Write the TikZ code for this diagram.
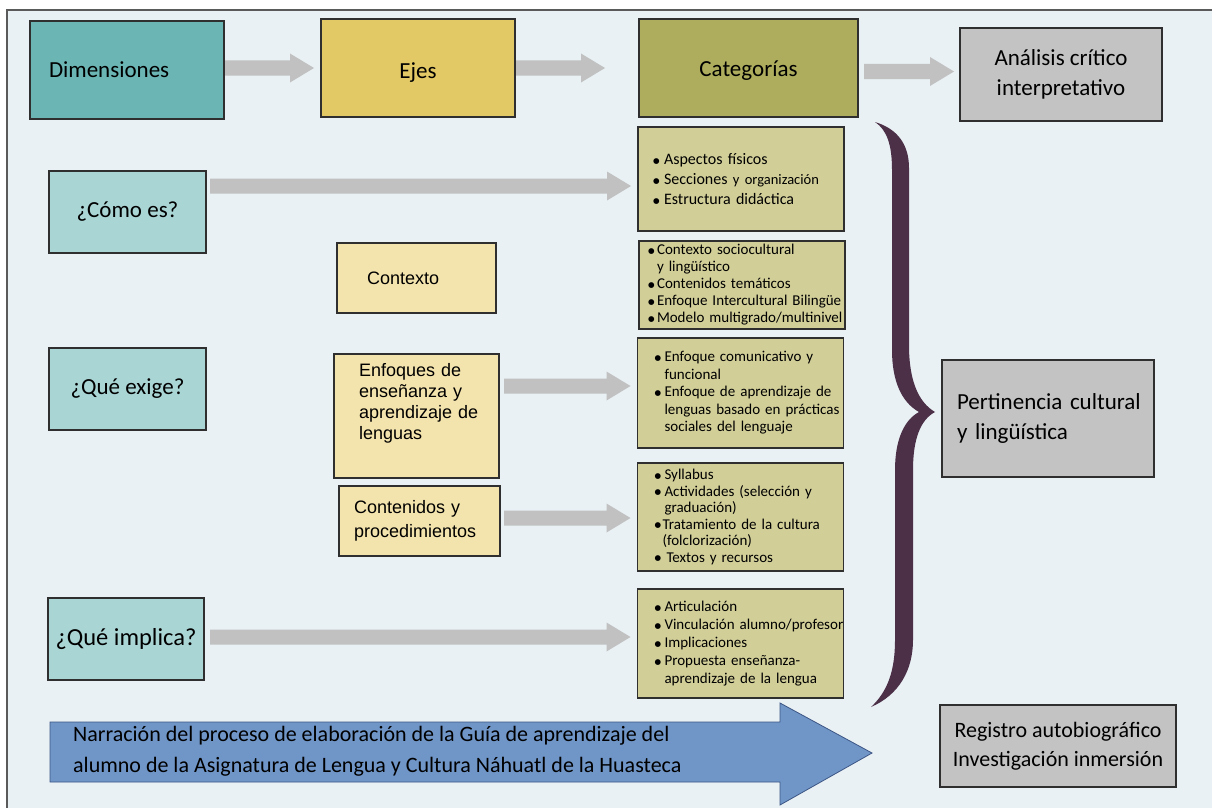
\documentclass[tikz,border=0pt]{standalone}
\usepackage{fontspec}
\setmainfont{Carlito}
\newfontfamily\arialf{Liberation Sans}
\newfontfamily\dejavu{DejaVu Sans}
\usetikzlibrary{calc}
\definecolor{bgc}{HTML}{E9F1F4}
\definecolor{framec}{HTML}{5A5A5A}
\definecolor{boxline}{HTML}{2F2F2F}
\definecolor{tealc}{HTML}{6BB5B5}
\definecolor{ejesc}{HTML}{E2C965}
\definecolor{catc}{HTML}{ADAD5D}
\definecolor{grayc}{HTML}{C3C3C3}
\definecolor{lteal}{HTML}{AAD5D5}
\definecolor{lyell}{HTML}{F3E3AC}
\definecolor{lcat}{HTML}{D1CE98}
\definecolor{arrowgray}{HTML}{C1C1C1}
\definecolor{bracec}{HTML}{4C3048}
\definecolor{bluec}{HTML}{7096C8}
\definecolor{blueedge}{HTML}{3C5584}
\newcommand\garrow[2]{\fill[arrowgray] let \p1=#1, \p2=#2 in (\x1,\y1+7.5pt) -- (\x2-24pt,\y1+7.5pt) -- (\x2-24pt,\y1+14.5pt) -- (\x2,\y1) -- (\x2-24pt,\y1-14.5pt) -- (\x2-24pt,\y1-7.5pt) -- (\x1,\y1-7.5pt) -- cycle;}
\newcommand\bdot{\raisebox{1.3pt}{\dejavu\fontsize{7.5}{7.5}\selectfont ●}}
\newcommand\bitem[2][11pt]{\mbox{\makebox[#1][l]{\bdot}#2}}
\newcommand\citem[2][11pt]{\mbox{\hspace*{#1}#2}}
\newcommand\lowtext[2]{\raisebox{-#1}[0pt][0pt]{#2}}
\tikzset{
  bx/.style={draw=boxline, line width=1.1pt, inner sep=0pt, outer sep=0pt},
  topbox/.style={bx, minimum width=194pt, minimum height=98pt, font=\fontsize{23}{30}\selectfont, align=center},
  qbox/.style={bx, fill=lteal, minimum width=157pt, minimum height=82pt, font=\fontsize{23}{28}\selectfont, align=center},
  ybox/.style={bx, fill=lyell, font=\arialf\fontsize{18}{21}\selectfont, align=left},
  cbox/.style={bx, fill=lcat, minimum width=206pt, align=left},
  gbox/.style={bx, fill=grayc, font=\fontsize{23}{30}\selectfont}
}
\begin{document}
\begin{tikzpicture}[x=1pt,y=-1pt]
\useasboundingbox (0,0) rectangle (1212,808);
\fill[white] (0,0) rectangle (1212,808);
\fill[bgc] (7,10) rectangle (1212,808);
\draw[framec,line width=1.5pt] (7,808) -- (7,10) -- (1212,10);

% top row
\node[topbox, fill=tealc, text width=156pt, align=left] (dim) at (127,70) {Dimensiones};
\node[topbox, fill=ejesc] (ejes) at (418,68) {\lowtext{10pt}{Ejes}};
\node[topbox, fill=catc, minimum width=219pt] (cat) at (748.5,68) {\lowtext{9pt}{Categorías}};
\node[gbox, minimum width=202pt, minimum height=93pt, align=center] (ana) at (1061,74.5) {Análisis crítico\\interpretativo};

\garrow{($(dim.east)+(1,-2)$)}{($(ejes.west)+(-7,0)$)}
\garrow{($(ejes.east)+(1,0)$)}{($(ejes.east)+(90,0)$)}
\garrow{($(cat.east)+(6,3.5)$)}{($(ana.west)+(-6,0)$)}

% left column
\node[qbox] (como) at (127.5,212) {¿Cómo es?};
\node[qbox] (exige) at (127.5,389) {¿Qué exige?};
\node[qbox, minimum width=156pt, font=\fontsize{24.5}{28}\selectfont] (impl) at (126,639) {¿Qué implica?};

% middle column
\node[ybox, minimum width=159pt, minimum height=70pt, text width=99pt] (ctx) at (416.5,278) {Contexto};
\node[ybox, minimum width=165pt, minimum height=124pt, text width=115pt] (enf) at (416.5,416) {\mbox{Enfoques de}\\\mbox{enseñanza y}\\\mbox{aprendizaje de}\\\mbox{lenguas}\\[9pt]\mbox{}};
\node[ybox, minimum width=161pt, minimum height=70pt, text width=131pt, font=\arialf\fontsize{18}{24}\selectfont] (cont) at (419.5,521) {Contenidos y\\procedimientos};

% category boxes
\node[cbox, minimum height=104pt, text width=176pt, font=\fontsize{16}{20}\selectfont] (cat1) at (741,179) {\bitem{Aspectos físicos}\\\bitem{Secciones {\fontsize{14.5}{20}\selectfont y organización}}\\\bitem{Estructura didáctica}};
\node[cbox, minimum height=88pt, text width=188pt, font=\fontsize{15}{17}\selectfont] (cat2) at (742,285) {\bitem[9pt]{Contexto sociocultural}\\\citem[9pt]{y lingüístico}\\\bitem[9pt]{Contenidos temáticos}\\\bitem[9pt]{Enfoque Intercultural Bilingüe}\\\bitem[9pt]{Modelo multigrado/multinivel}};
\node[cbox, minimum height=110pt, text width=172pt, font=\fontsize{15}{17.5}\selectfont] (cat3) at (740.5,393) {\bitem[10pt]{Enfoque comunicativo y}\\\citem[10pt]{funcional}\\\bitem[10pt]{Enfoque de aprendizaje de}\\\citem[10pt]{lenguas basado en prácticas}\\\citem[10pt]{sociales del lenguaje}};
\node[cbox, minimum height=108pt, text width=172pt, font=\fontsize{15}{16.5}\selectfont] (cat4) at (740.5,517) {\bitem[10pt]{Syllabus}\\\bitem[10pt]{Actividades (selección y}\\\citem[10pt]{graduación)}\\\bitem[8pt]{Tratamiento de la cultura}\\\citem[8pt]{(folclorización)}\\\bitem[12pt]{Textos y recursos}};
\node[cbox, minimum height=109pt, text width=172pt, font=\fontsize{15}{18}\selectfont] (cat5) at (740.5,643.5) {\bitem[10pt]{Articulación}\\\bitem[10pt]{Vinculación alumno/profesor}\\\bitem[10pt]{Implicaciones}\\\bitem[10pt]{Propuesta enseñanza-}\\\citem[10pt]{aprendizaje de la lengua}};

% row arrows
\garrow{($(como.east |- 0,186)+(4,0)$)}{($(cat1.west |- 0,186)+(-7,0)$)}
\garrow{($(enf.east |- 0,386)+(5,0)$)}{($(cat3.west |- 0,386)+(-7,0)$)}
\garrow{($(cont.east |- 0,518)+(4,0)$)}{($(cat4.west |- 0,518)+(-7,0)$)}
\garrow{($(impl.east |- 0,637)+(6,0)$)}{($(cat5.west |- 0,637)+(-7,0)$)}

% brace
\fill[bracec] (875,122) .. controls (898,129) and (909,145) .. (909,168) -- (909,345)
  .. controls (909,380) and (918,402) .. (935,412)
  .. controls (920,420) and (913,440) .. (913,470) -- (913,640)
  .. controls (913,670) and (899,695) .. (871,707)
  .. controls (887,692) and (895,672) .. (895,640) -- (895,470)
  .. controls (895,440) and (904,420) .. (919,412)
  .. controls (901,402) and (892,380) .. (892,350) -- (892,170)
  .. controls (892,145) and (887,130) .. (875,122) -- cycle;

% right column
\node[gbox, minimum width=212pt, minimum height=117pt, text width=182pt, align=left] (pert) at (1048,418.5) {\mbox{Pertinencia cultural}\\\mbox{y lingüística}};
\node[gbox, minimum width=236pt, minimum height=82pt, align=center, font=\fontsize{22}{29}\selectfont] (reg) at (1058,746) {Registro autobiográfico\\Investigación inmersión};

% bottom blue arrow
\filldraw[fill=bluec, draw=blueedge, line width=0.8pt] (50,722) -- (780,722) -- (780,703) -- (872,753) -- (780,805) -- (780,782) -- (50,782) -- cycle;
\node[anchor=west, align=left, inner sep=0pt, font=\fontsize{22}{31}\selectfont] (narr) at (73,751.5) {Narración del proceso de elaboración de la Guía de aprendizaje del\\alumno de la Asignatura de Lengua y Cultura Náhuatl de la Huasteca};
\end{tikzpicture}
\end{document}
